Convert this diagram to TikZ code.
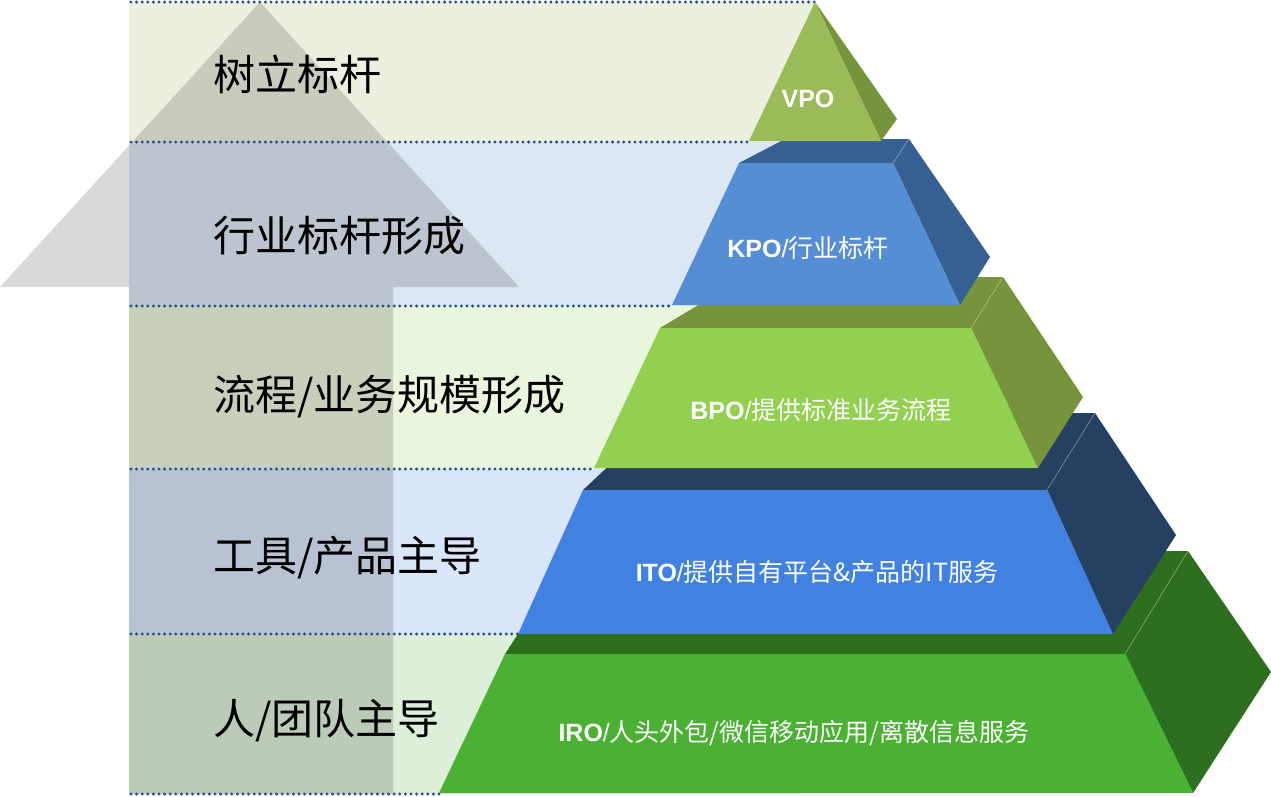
\documentclass[tikz,border=0pt]{standalone}
\usepackage{fontspec}
\setmainfont{Liberation Sans}
\newfontfamily\cjk{Noto Sans CJK SC}
\newcommand{\abbr}[1]{{\rmfamily\bfseries #1}{\rmfamily/}}

\definecolor{bandA}{HTML}{EBF0DF}
\definecolor{bandB}{HTML}{DCE7F4}
\definecolor{bandC}{HTML}{E9F5DC}
\definecolor{bandD}{HTML}{D9E5F8}
\definecolor{bandE}{HTML}{DDEFD8}
\definecolor{sepblue}{HTML}{24518F}
\definecolor{vpoFront}{HTML}{9BBB59}
\definecolor{vpoSide}{HTML}{77933C}
\definecolor{kpoFront}{HTML}{558ED5}
\definecolor{kpoSide}{HTML}{376092}
\definecolor{bpoFront}{HTML}{92D050}
\definecolor{bpoSide}{HTML}{77933C}
\definecolor{itoFront}{HTML}{4181E1}
\definecolor{itoSide}{HTML}{254061}
\definecolor{iroFront}{HTML}{4AB133}
\definecolor{iroSide}{HTML}{2E6F1F}

\begin{document}
\begin{tikzpicture}[x=1pt, y=-1pt,
  sep/.style={draw=sepblue, line width=3.3pt, line cap=round, dash pattern=on 0pt off 5.6pt},
  ridge/.style={draw=white, opacity=0.35, line width=0.6pt},
  lefttext/.style={anchor=west, inner sep=0pt, text=black, font=\cjk\fontsize{42}{48}\selectfont},
  tiertext/.style={inner sep=0pt, text=white, font=\cjk\fontsize{25}{30}\selectfont}]
  \useasboundingbox (0,0) rectangle (1271,796);
  % background bands
  \fill[bandA] (129,2) rectangle (815,142);
  \fill[bandB] (129,142) rectangle (800,306);
  \fill[bandC] (129,306) rectangle (800,469);
  \fill[bandD] (129,469) rectangle (800,634);
  \fill[bandE] (129,634) rectangle (800,794);
  % big arrow
  \fill[black, opacity=0.15] (129,794) -- (129,287) -- (0,287) -- (260,2) -- (519,287)
    -- (393,287) -- (393,794) -- cycle;
  % separators
  \draw[sep] (131,2) -- (815,2);
  \draw[sep] (131,142) -- (749,142);
  \draw[sep] (131,306) -- (672,306);
  \draw[sep] (131,469) -- (594,469);
  \draw[sep] (131,634) -- (518,634);
  \draw[sep] (131,794) -- (439,794);
  % IRO
  \fill[iroSide] (505,654) -- (1125,654) -- (1188,551) -- (572,551) -- cycle;
  \fill[iroSide] (1125,654) -- (1188,551) -- (1271,672) -- (1193,793) -- cycle;
  \fill[iroFront] (505,654) -- (1125,654) -- (1193,793) -- (439,793) -- cycle;
  \draw[ridge] (1125,654) -- (1188,551);
  % ITO
  \fill[itoSide] (583,490) -- (1047,490) -- (1095,413) -- (665,413) -- cycle;
  \fill[itoSide] (1047,490) -- (1095,413) -- (1176,535) -- (1113,634) -- cycle;
  \fill[itoFront] (583,490) -- (1047,490) -- (1113,634) -- (518,634) -- cycle;
  \draw[ridge] (1047,490) -- (1095,413);
  % BPO
  \fill[bpoSide] (660,328) -- (971,328) -- (1003,277) -- (745,277) -- cycle;
  \fill[bpoSide] (971,328) -- (1003,277) -- (1083,397) -- (1038,468) -- cycle;
  \fill[bpoFront] (660,328) -- (971,328) -- (1038,468) -- (594,468) -- cycle;
  \draw[ridge] (971,328) -- (1003,277);
  % KPO
  \fill[kpoSide] (739,163) -- (893,163) -- (909,139) -- (785,139) -- cycle;
  \fill[kpoSide] (893,163) -- (909,139) -- (990,257) -- (960,305) -- cycle;
  \fill[kpoFront] (739,163) -- (893,163) -- (960,305) -- (672,305) -- cycle;
  \draw[ridge] (893,163) -- (909,139);
  % VPO
  \fill[vpoSide] (815,2) -- (897,119) -- (881,141) -- cycle;
  \fill[vpoFront] (815,2) -- (881,141) -- (749,141) -- cycle;
  % left labels
  \node[lefttext] (goal)    at (213,74)  {树立标杆};
  \node[lefttext] (bench)   at (213,236) {行业标杆形成};
  \node[lefttext] (process) at (213,397) {流程/业务规模形成};
  \node[lefttext] (tool)    at (213,558) {工具/产品主导};
  \node[lefttext] (people)  at (213,721) {人/团队主导};
  % tier labels
  \node[tiertext] (vpo) at (808,99)  {\rmfamily\bfseries VPO};
  \node[tiertext] (kpo) at (808,248) {\abbr{KPO}行业标杆};
  \node[tiertext] (bpo) at (821,410) {\abbr{BPO}提供标准业务流程};
  \node[tiertext] (ito) at (817,572) {\abbr{ITO}提供自有平台\&产品的IT服务};
  \node[tiertext] (iro) at (794,733) {\abbr{IRO}人头外包/微信移动应用/离散信息服务};
\end{tikzpicture}
\end{document}
